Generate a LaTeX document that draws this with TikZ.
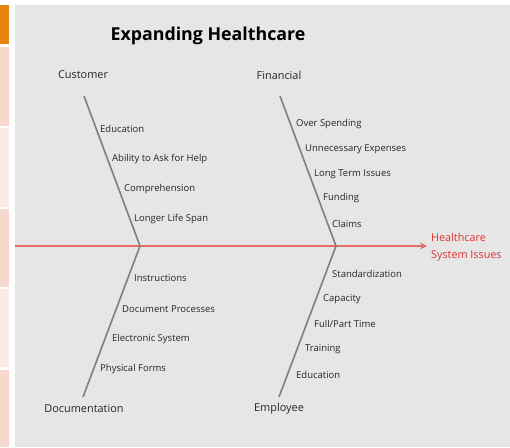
\documentclass[tikz,border=0pt]{standalone}
\usepackage{fontspec}
\setmainfont{Open Sans}
\usetikzlibrary{positioning,arrows.meta}
\definecolor{panelgray}{HTML}{E6E6E6}
\definecolor{bonegray}{HTML}{7F7F7F}
\definecolor{spinered}{HTML}{E46C6C}
\definecolor{tabpeach}{HTML}{F6D9CC}
\definecolor{tablight}{HTML}{FAEBE5}
\definecolor{taborange}{HTML}{E8830F}
\definecolor{textdark}{HTML}{262626}
\definecolor{effectred}{HTML}{E03030}
\tikzstyle{bone}=[draw=bonegray, line width=1.6pt]
\tikzstyle{spine}=[draw=spinered, line width=1.6pt, -{Stealth[length=7pt,width=7pt]}]
\tikzstyle{cause}=[font=\fontsize{9.5}{11}\selectfont, anchor=west, inner sep=0pt, text=textdark, yshift=-1pt]
\tikzstyle{cat}=[font=\fontsize{10.9}{12}\selectfont, inner sep=0pt, text=textdark, yshift=-1pt]

\begin{document}
\begin{tikzpicture}[x=1pt,y=-1pt]
\useasboundingbox (0,0) rectangle (510,447);
% side tabs and panel
\fill[taborange] (0,5) rectangle (9,44);
\fill[tabpeach] (0,47) rectangle (9,126);
\fill[tablight] (0,128) rectangle (9,207);
\fill[tabpeach] (0,209) rectangle (9,287);
\fill[tablight] (0,289) rectangle (9,367);
\fill[tabpeach] (0,370) rectangle (9,447);
\fill[panelgray] (15,5) rectangle (510,447);
\node (TITLE) [font=\fontsize{17.8}{20}\selectfont\bfseries, text=black] at (208,36) {Expanding Healthcare};
% categories
\node (CUST) [cat] at (83,74) {Customer};
\node (FIN) [cat] at (279,74) {Financial};
\node (DOC) [cat] at (84,408) {Documentation};
\node (EMP) [cat] at (279,408) {Employee};
\coordinate (CUSTtop) at (84,96);
\coordinate (FINtop) at (280,96);
\coordinate (DOCbot) at (83,397);
\coordinate (EMPbot) at (279,397);
\coordinate (J1) at (140,246);
\coordinate (J2) at (336,246);
\coordinate (SPstart) at (15,246);
\coordinate (SPend) at (427,246);
\node (EFFECT) [anchor=west, inner sep=0pt, align=left, text=effectred, font=\fontsize{10.8}{16.5}\selectfont] at (431,247) {Healthcare\\System Issues};
% spine and bones
\draw[spine] (SPstart) -- (SPend);
\draw[bone] (CUSTtop) -- (J1);
\draw[bone] (DOCbot) -- (J1);
\draw[bone] (FINtop) -- (J2);
\draw[bone] (EMPbot) -- (J2);
% customer causes
\node (CU1) [cause] at (100,128) {Education};
\node (CU2) [cause] at (112,158) {Ability to Ask for Help};
\node (CU3) [cause] at (124,188) {Comprehension};
\node (CU4) [cause] at (134,218) {Longer Life Span};
% financial causes
\node (FI1) [cause] at (296,123) {Over Spending};
\node (FI2) [cause] at (305,148) {Unnecessary Expenses};
\node (FI3) [cause] at (314,173) {Long Term Issues};
\node (FI4) [cause] at (323,197) {Funding};
\node (FI5) [cause] at (332,223) {Claims};
% documentation causes
\node (DO1) [cause] at (134,277) {Instructions};
\node (DO2) [cause] at (122,308) {Document Processes};
\node (DO3) [cause] at (112,338) {Electronic System};
\node (DO4) [cause] at (100,368) {Physical Forms};
% employee causes
\node (EM1) [cause] at (332,273) {Standardization};
\node (EM2) [cause] at (323,298) {Capacity};
\node (EM3) [cause] at (314,323) {Full/Part Time};
\node (EM4) [cause] at (305,348) {Training};
\node (EM5) [cause] at (296,374) {Education};
\end{tikzpicture}
\end{document}
